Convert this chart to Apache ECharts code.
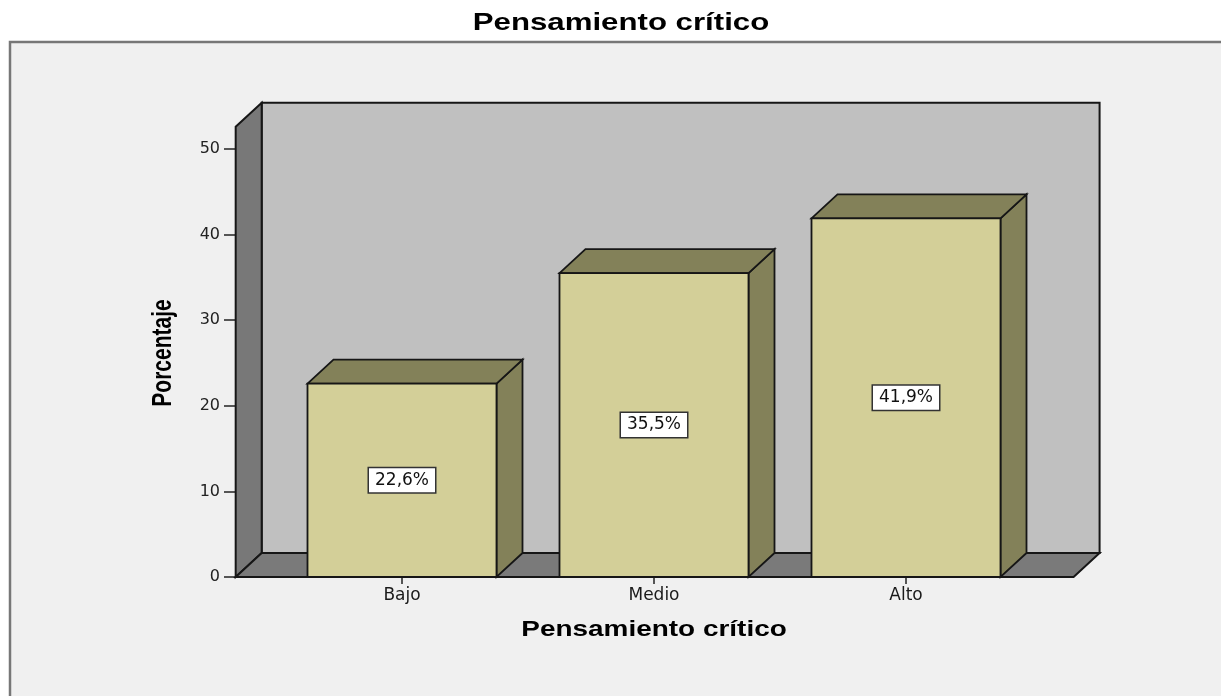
<!DOCTYPE html>
<html>
<head>
<meta charset="utf-8">
<title>Pensamiento crítico</title>
<script src="https://cdn.jsdelivr.net/npm/echarts@6/dist/echarts.min.js"></script>
<style>
  html, body { margin: 0; padding: 0; background: #fff; }
  #chart { width: 1221px; height: 696px; }
</style>
</head>
<body>
<div id="chart"></div>
<script>
// datos del gráfico
const categories = ['Bajo', 'Medio', 'Alto'];
const percentages = [22.6, 35.5, 41.9];

// profundidad del efecto 3D (px) y altura de las paredes
const DX = 26;
const DY = -24;
const WALL_TOP = 52.6;

const LINE = '#161616';

function fmtPct(v) {
  return v.toFixed(1).replace('.', ',') + '%';
}

function renderWalls(params, api) {
  const first = api.coord([0, 0]);
  const last = api.coord([categories.length - 1, 0]);
  const band = api.size([1, 0])[0];
  const left = first[0] - band * 0.66;
  const right = last[0] + band * 0.665;
  const yBase = first[1];
  const yTop = api.coord([0, WALL_TOP])[1];
  const stroke = { stroke: LINE, lineWidth: 2, lineJoin: 'miter' };
  return {
    type: 'group',
    children: [{
      type: 'polygon',
      shape: {
        points: [[left + DX, yTop + DY], [right + DX, yTop + DY],
          [right + DX, yBase + DY], [left + DX, yBase + DY]],
      },
      style: Object.assign({ fill: '#c0c0c0' }, stroke),
    }, {
      type: 'polygon',
      shape: {
        points: [[left, yBase], [left, yTop], [left + DX, yTop + DY], [left + DX, yBase + DY]],
      },
      style: Object.assign({ fill: '#787878' }, stroke),
    }, {
      type: 'polygon',
      shape: {
        points: [[left, yBase], [left + DX, yBase + DY], [right + DX, yBase + DY], [right, yBase]],
      },
      style: Object.assign({ fill: '#7a7a7a' }, stroke),
    }],
  };
}

function renderBar(params, api) {
  const idx = api.value(0);
  const v = api.value(1);
  const top = api.coord([idx, v]);
  const base = api.coord([idx, 0]);
  const band = api.size([1, 0])[0];
  const w = band * 0.75;
  const x0 = top[0] - w / 2;
  const x1 = top[0] + w / 2;
  const yT = top[1];
  const yB = base[1];
  const stroke = { stroke: LINE, lineWidth: 1.8 };
  return {
    type: 'group',
    children: [{
      type: 'polygon',
      shape: { points: [[x1, yB], [x1, yT], [x1 + DX, yT + DY], [x1 + DX, yB + DY]] },
      style: Object.assign({ fill: '#838159' }, stroke),
    }, {
      type: 'polygon',
      shape: { points: [[x0, yT], [x0 + DX, yT + DY], [x1 + DX, yT + DY], [x1, yT]] },
      style: Object.assign({ fill: '#838159' }, stroke),
    }, {
      type: 'rect',
      shape: { x: x0, y: yT, width: w, height: yB - yT },
      style: Object.assign({ fill: '#d3cf98' }, stroke),
    }, {
      type: 'text',
      x: top[0],
      y: (yT + yB) / 2,
      style: {
        text: fmtPct(v),
        fill: '#111',
        font: '17px "DejaVu Sans"',
        align: 'center',
        verticalAlign: 'middle',
        backgroundColor: '#fff',
        borderColor: '#333',
        borderWidth: 1.5,
        padding: [4, 6, 3, 6],
      },
    }],
  };
}

const chart = echarts.init(document.getElementById('chart'), null, { renderer: 'canvas' });

const option = {
  backgroundColor: '#fff',
  animation: false,
  grid: {
    left: 276,
    right: 189,
    top: 149,
    bottom: 119,
  },
  graphic: [{
    type: 'rect',
    z: -10,
    shape: { x: 10, y: 42, width: 1300, height: 720 },
    style: { fill: '#f0f0f0', stroke: '#777', lineWidth: 2.5 },
  }, {
    type: 'text',
    x: 621,
    y: 23,
    scaleX: 1.3,
    style: {
      text: 'Pensamiento crítico',
      font: 'bold 24px "Liberation Sans"',
      fill: '#000',
      align: 'center',
      verticalAlign: 'middle',
    },
  }, {
    type: 'text',
    x: 654,
    y: 630,
    scaleX: 1.27,
    style: {
      text: 'Pensamiento crítico',
      font: 'bold 22px "Liberation Sans"',
      fill: '#000',
      align: 'center',
      verticalAlign: 'middle',
    },
  }, {
    type: 'text',
    x: 163,
    y: 353,
    rotation: Math.PI / 2,
    scaleY: 1.3,
    style: {
      text: 'Porcentaje',
      font: 'bold 21px "Liberation Sans"',
      fill: '#000',
      align: 'center',
      verticalAlign: 'middle',
    },
  }],
  xAxis: {
    type: 'category',
    data: categories,
    axisLine: { show: false },
    axisTick: {
      show: true,
      alignWithLabel: true,
      length: 7,
      lineStyle: { color: '#222', width: 1.5 },
    },
    axisLabel: {
      margin: 10,
      color: '#1a1a1a',
      fontFamily: 'DejaVu Sans',
      fontSize: 17,
    },
    splitLine: { show: false },
  },
  yAxis: {
    type: 'value',
    min: 0,
    max: 50,
    interval: 10,
    offset: 40,
    axisLine: { show: false },
    axisTick: {
      show: true,
      length: 12,
      lineStyle: { color: '#222', width: 1.5 },
    },
    axisLabel: {
      margin: 16,
      color: '#222',
      fontFamily: 'DejaVu Sans',
      fontSize: 16,
    },
    splitLine: { show: false },
  },
  series: [{
    type: 'custom',
    name: 'paredes',
    clip: false,
    silent: true,
    renderItem: renderWalls,
    data: [[0, 0]],
    encode: { x: 0, y: 1 },
    z: 1,
  }, {
    type: 'custom',
    name: 'Porcentaje',
    clip: false,
    renderItem: renderBar,
    data: percentages.map((v, i) => [i, v]),
    encode: { x: 0, y: 1 },
    z: 3,
  }],
};

chart.setOption(option);
</script>
</body>
</html>
